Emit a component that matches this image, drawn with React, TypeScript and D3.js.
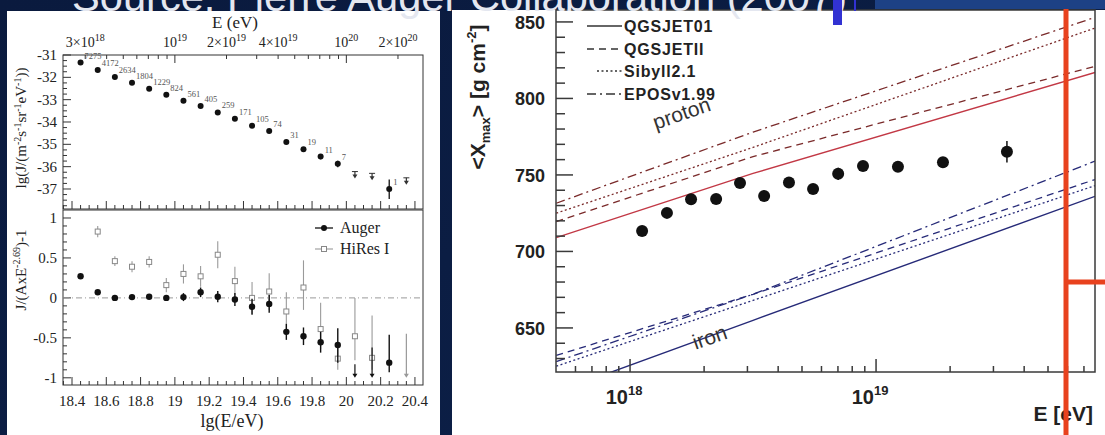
import React from 'react';
import * as d3 from 'd3';

// ---------- Left top panel: Auger energy spectrum ----------
const specLgE = [18.45, 18.55, 18.65, 18.75, 18.85, 18.95, 19.05, 19.15, 19.25, 19.35, 19.45, 19.55, 19.65, 19.75, 19.85, 19.95, 20.25];
const specLgJ = [-31.34, -31.67, -31.99, -32.24, -32.51, -32.78, -33.05, -33.28, -33.57, -33.85, -34.17, -34.40, -34.90, -35.22, -35.55, -35.87, -37.0];
const specErrUp = [0, 0, 0, 0, 0, 0, 0, 0, 0, 0, 0, 0.03, 0.05, 0.08, 0.1, 0.14, 0.42];
const specErrDn = [0, 0, 0, 0, 0, 0, 0, 0, 0, 0, 0, 0.03, 0.05, 0.08, 0.12, 0.16, 0.45];
const specEvents = ['7275', '4172', '2634', '1804', '1229', '824', '561', '405', '259', '171', '105', '74', '31', '19', '11', '7', '1'];
const specLimLgE = [20.05, 20.15, 20.35];
const specLimLgJ = [-36.22, -36.3, -36.5];
const topTickE = [3e18, 1e19, 2e19, 4e19, 1e20, 2e20];
const topTickMant = ['3', '', '2', '4', '', '2'];
const topTickExp = ['18', '19', '19', '19', '20', '20'];
const specYTicks = [-31, -32, -33, -34, -35, -36, -37];

// ---------- Left bottom panel: residuals ----------
const augerLgE = [18.45, 18.55, 18.65, 18.75, 18.85, 18.95, 19.05, 19.15, 19.25, 19.35, 19.45, 19.55, 19.65, 19.75, 19.85, 19.95, 20.25];
const augerVal = [0.27, 0.07, 0.0, 0.01, 0.015, 0.0, 0.01, 0.07, 0.015, -0.02, -0.11, -0.075, -0.425, -0.48, -0.555, -0.59, -0.81];
const augerErrUp = [0.01, 0.01, 0.015, 0.02, 0.025, 0.03, 0.05, 0.06, 0.07, 0.08, 0.1, 0.11, 0.1, 0.11, 0.13, 0.21, 0.35];
const augerErrDn = [0.01, 0.01, 0.015, 0.02, 0.025, 0.03, 0.05, 0.06, 0.07, 0.08, 0.1, 0.11, 0.1, 0.11, 0.13, 0.22, 0.12];
const augerLimLgE = [20.05, 20.15];
const augerLimTop = [-0.83, -0.62];
const hiresLgE = [18.55, 18.65, 18.75, 18.85, 18.95, 19.05, 19.15, 19.25, 19.35, 19.45, 19.55, 19.65, 19.75, 19.85, 19.95, 20.05, 20.15];
const hiresVal = [0.83, 0.46, 0.39, 0.45, 0.16, 0.30, 0.27, 0.54, 0.21, 0.0, 0.08, -0.17, 0.13, -0.39, -0.76, -0.48, -0.75];
const hiresErrUp = [0.07, 0.06, 0.07, 0.07, 0.09, 0.12, 0.13, 0.17, 0.18, 0.2, 0.23, 0.24, 0.34, 0.33, 0.14, 0.48, 0.53];
const hiresErrDn = [0.07, 0.06, 0.07, 0.07, 0.09, 0.12, 0.13, 0.17, 0.18, 0.2, 0.23, 0.24, 0.28, 0.25, 0.14, 0.3, 0.15];
const hiresLimLgE = [20.35];
const hiresLimTop = [-0.45];
const resYTicks = [1, 0.5, 0, -0.5, -1];
const resYLabels = ['1', '0.5', '0', '-0.5', '-1'];
const lgEXTicks = [18.4, 18.6, 18.8, 19, 19.2, 19.4, 19.6, 19.8, 20, 20.2, 20.4];

// ---------- Right panel: <Xmax> ----------
const xmaxLgE = [18.049, 18.15, 18.248, 18.35, 18.447, 18.545, 18.646, 18.744, 18.846, 18.947, 19.089, 19.272, 19.532];
const xmaxVal = [713.4, 725.2, 734.1, 734.3, 744.8, 736.3, 745.0, 740.8, 750.7, 755.9, 755.4, 758.3, 765.2];
const xmaxErr = [2, 2, 2, 2, 2, 2, 2, 2, 4, 2, 2, 2, 7];
const modelLgE = [17.7, 18.5, 19.89];
const modelNames = ['QGSJET01', 'QGSJETII', 'Sibyll2.1', 'EPOSv1.99'];
const protonQGSJET01 = [709, 751, 817];
const protonQGSJETII = [719.5, 762, 821];
const protonSibyll = [725, 768, 846];
const protonEPOS = [731.5, 778, 853];
const ironQGSJET01 = [608, 655, 736];
const ironQGSJETII = [632, 672, 747];
const ironSibyll = [625, 668, 743];
const ironEPOS = [628, 672, 759];
const xmaxYTicks = [850, 800, 750, 700, 650];

const SERIF = '"Liberation Serif", "DejaVu Serif", serif';
const SANS = '"Liberation Sans", Arial, sans-serif';

export default function App() {
  // ---- left scales ----
  const xL = d3.scaleLinear().domain([18.3475, 20.447]).range([63, 423]);
  const yTop = d3.scaleLinear().domain([-37.896, -31.0]).range([209, 55]);
  const yBot = d3.scaleLinear().domain([-1.09, 1.1]).range([385, 210]);
  // ---- right scales ----
  const xR = d3.scaleLog().domain([Math.pow(10, 17.699), Math.pow(10, 19.89)]).range([556, 1095]);
  const yR = d3.scaleLinear().domain([621.2, 857.8]).range([372, 10]);

  const L0 = 63, L1 = 423;

  // ticks
  const lgMinor = d3.range(18.35, 20.45, 0.05).filter(v => Math.abs(Math.round(v * 5) - v * 5) > 0.01);
  const lgMajor = lgEXTicks;
  const topLogTicks: number[] = [];
  for (let n = 18; n <= 20; n++) for (let k = 1; k <= 9; k++) {
    const lv = n + Math.log10(k);
    if (lv >= 18.3475 && lv <= 20.447) topLogTicks.push(lv);
  }
  const specMinorY = d3.range(-37.75, -31, 0.25).filter(v => Math.abs(v - Math.round(v)) > 0.01);
  const resMinorY = d3.range(-1.0, 1.05, 0.1).filter(v => Math.abs(v * 2 - Math.round(v * 2)) > 0.01);

  const rLogTicks: { v: number; major: boolean }[] = [];
  for (let n = 17; n <= 19; n++) for (let k = 1; k <= 9; k++) {
    const v = k * Math.pow(10, n);
    const lv = Math.log10(v);
    if (lv > 17.71 && lv < 19.88) rLogTicks.push({ v, major: k === 1 });
  }
  const rMinorY = d3.range(630, 858, 10).filter(v => v % 50 !== 0);

  const modelLine = (vals: number[]) =>
    d3.line<number>().x((_, i) => xR(Math.pow(10, modelLgE[i]))).y(v => yR(v))(vals) || '';

  const PROTON_SOLID = '#c23845';
  const PROTON_DASH = '#7a2a2a';
  const IRON = '#262a78';
  const styles = [
    { dash: undefined as string | undefined, w: 1.4 },
    { dash: '7 5', w: 1.3 },
    { dash: '2 2.5', w: 1.3 },
    { dash: '9 4 2 4', w: 1.3 },
  ];
  const protonSets = [protonQGSJET01, protonQGSJETII, protonSibyll, protonEPOS];
  const ironSets = [ironQGSJET01, ironQGSJETII, ironSibyll, ironEPOS];

  const arrow = (x: number, y0: number, y1: number, color: string, key: string, bar = true) => (
    <g key={key} stroke={color} fill={color}>
      {bar && <line x1={x - 3} x2={x + 3} y1={y0} y2={y0} strokeWidth={1} />}
      <line x1={x} x2={x} y1={y0} y2={y1 - 3} strokeWidth={1.2} />
      <path d={`M${x - 2.5},${y1 - 4} L${x + 2.5},${y1 - 4} L${x},${y1} Z`} stroke="none" />
    </g>
  );

  return (
    <svg width={1105} height={435} style={{ position: 'fixed', left: 0, top: 0, display: 'block' }}>
      <defs>
        <linearGradient id="bg" x1="0" y1="0" x2="1" y2="1">
          <stop offset="0" stopColor="#0a1a3e" />
          <stop offset="1" stopColor="#0c2048" />
        </linearGradient>
        <clipPath id="rclip"><rect x={556} y={10} width={539} height={362} /></clipPath>
      </defs>
      <rect x={0} y={0} width={1105} height={435} fill="url(#bg)" />
      <rect x={875} y={0} width={230} height={9} fill="#1d4185" />

      {/* ================= LEFT PANEL ================= */}
      <rect x={7} y={11} width={433} height={424} fill="#ffffff" />
      {/* frames */}
      <rect x={L0} y={55} width={L1 - L0} height={154} fill="none" stroke="#333" strokeWidth={1} />
      <rect x={L0} y={210} width={L1 - L0} height={175} fill="none" stroke="#333" strokeWidth={1} />

      {/* top panel top-axis log ticks */}
      {topLogTicks.map((lv, i) => {
        const major = Math.abs(lv - Math.round(lv)) < 1e-6;
        return <line key={'tl' + i} x1={xL(lv)} x2={xL(lv)} y1={55} y2={55 + (major ? 8 : 4)} stroke="#333" />;
      })}
      {topTickE.map((e, i) => (
        <text key={'tt' + i} x={xL(Math.log10(e))} y={47} fontFamily={SERIF} fontSize={14} fill="#222" textAnchor="middle">
          {topTickMant[i] ? `${topTickMant[i]}×10` : '10'}
          <tspan dy={-6} fontSize={10}>{topTickExp[i]}</tspan>
        </text>
      ))}
      <text x={235} y={28} fontFamily={SERIF} fontSize={17} fill="#222" textAnchor="middle">E (eV)</text>

      {/* top panel bottom ticks */}
      {lgMajor.map((v, i) => <line key={'tb' + i} x1={xL(v)} x2={xL(v)} y1={209} y2={201} stroke="#333" />)}
      {lgMinor.map((v, i) => <line key={'tbm' + i} x1={xL(v)} x2={xL(v)} y1={209} y2={205} stroke="#333" />)}
      {/* top panel y ticks */}
      {specYTicks.map((v, i) => (
        <g key={'sy' + i}>
          <line x1={L0} x2={L0 + 8} y1={yTop(v)} y2={yTop(v)} stroke="#333" />
          <text x={57} y={yTop(v) + 5} fontFamily={SERIF} fontSize={15} fill="#222" textAnchor="end">{v}</text>
        </g>
      ))}
      {specMinorY.map((v, i) => <line key={'sym' + i} x1={L0} x2={L0 + 4} y1={yTop(v)} y2={yTop(v)} stroke="#333" />)}
      <text transform="translate(26,128) rotate(-90)" fontFamily={SERIF} fontSize={15} fill="#222" textAnchor="middle">
        lg(J/(m<tspan dy={-5} fontSize={10}>-2</tspan><tspan dy={5}>s</tspan><tspan dy={-5} fontSize={10}>-1</tspan><tspan dy={5}>sr</tspan><tspan dy={-5} fontSize={10}>-1</tspan><tspan dy={5}>eV</tspan><tspan dy={-5} fontSize={10}>-1</tspan><tspan dy={5}>))</tspan>
      </text>

      {/* spectrum points */}
      {specLgE.map((e, i) => {
        const x = xL(e), y = yTop(specLgJ[i]);
        return (
          <g key={'sp' + i}>
            {(specErrUp[i] > 0 || specErrDn[i] > 0) && (
              <line x1={x} x2={x} y1={yTop(specLgJ[i] + specErrUp[i])} y2={yTop(specLgJ[i] - specErrDn[i])} stroke="#111" strokeWidth={1.3} />
            )}
            <circle cx={x} cy={y} r={3} fill="#111" />
            <text x={x + 4} y={y - 4} fontFamily={SERIF} fontSize={8.5} fill="#555">{specEvents[i]}</text>
          </g>
        );
      })}
      {specLimLgE.map((e, i) => arrow(xL(e), yTop(specLimLgJ[i]), yTop(specLimLgJ[i]) + 7, '#333', 'sl' + i))}

      {/* bottom panel ticks */}
      {lgMajor.map((v, i) => (
        <g key={'bx' + i}>
          <line x1={xL(v)} x2={xL(v)} y1={385} y2={377} stroke="#333" />
          <text x={xL(v)} y={406} fontFamily={SERIF} fontSize={15} fill="#222" textAnchor="middle">{v}</text>
        </g>
      ))}
      {lgMinor.map((v, i) => <line key={'bxm' + i} x1={xL(v)} x2={xL(v)} y1={385} y2={381} stroke="#333" />)}
      {resYTicks.map((v, i) => (
        <g key={'ry' + i}>
          <line x1={L0} x2={L0 + 8} y1={yBot(v)} y2={yBot(v)} stroke="#333" />
          <text x={57} y={yBot(v) + 5} fontFamily={SERIF} fontSize={15} fill="#222" textAnchor="end">{resYLabels[i]}</text>
        </g>
      ))}
      {resMinorY.map((v, i) => <line key={'rym' + i} x1={L0} x2={L0 + 4} y1={yBot(v)} y2={yBot(v)} stroke="#333" />)}
      <text x={232} y={427} fontFamily={SERIF} fontSize={18} fill="#222" textAnchor="middle">lg(E/eV)</text>
      <text transform="translate(26,270) rotate(-90)" fontFamily={SERIF} fontSize={15} fill="#222" textAnchor="middle">
        J/(AxE<tspan dy={-6} fontSize={10}>-2.69</tspan><tspan dy={6}>)-1</tspan>
      </text>
      {/* zero line */}
      <line x1={L0} x2={L1} y1={yBot(0)} y2={yBot(0)} stroke="#999" strokeWidth={1} strokeDasharray="6 3 1 3" />

      {/* HiRes */}
      {hiresLgE.map((e, i) => {
        const x = xL(e), y = yBot(hiresVal[i]);
        return (
          <g key={'hr' + i}>
            <line x1={x} x2={x} y1={yBot(hiresVal[i] + hiresErrUp[i])} y2={yBot(hiresVal[i] - hiresErrDn[i])} stroke="#9a9a9a" strokeWidth={1.1} />
            <rect x={x - 2.5} y={y - 2.5} width={5} height={5} fill="#fff" stroke="#888" strokeWidth={1} />
          </g>
        );
      })}
      {hiresLimLgE.map((e, i) => arrow(xL(e), yBot(hiresLimTop[i]), yBot(-1.0), '#999', 'hl' + i, false))}
      {/* Auger */}
      {augerLgE.map((e, i) => {
        const x = xL(e), y = yBot(augerVal[i]);
        return (
          <g key={'au' + i}>
            <line x1={x} x2={x} y1={yBot(augerVal[i] + augerErrUp[i])} y2={yBot(augerVal[i] - augerErrDn[i])} stroke="#111" strokeWidth={1.4} />
            <circle cx={x} cy={y} r={3.2} fill="#111" />
          </g>
        );
      })}
      {augerLimLgE.map((e, i) => arrow(xL(e), yBot(augerLimTop[i]), yBot(-1.0), '#111', 'al' + i, false))}
      {/* legend */}
      <line x1={315} x2={333} y1={228} y2={228} stroke="#111" strokeWidth={1.3} />
      <circle cx={324} cy={228} r={3} fill="#111" />
      <text x={340} y={233} fontFamily={SERIF} fontSize={16} fill="#222">Auger</text>
      <line x1={315} x2={333} y1={249} y2={249} stroke="#999" strokeWidth={1.1} />
      <rect x={321.5} y={246.5} width={5} height={5} fill="#fff" stroke="#888" />
      <text x={340} y={254} fontFamily={SERIF} fontSize={16} fill="#222">HiRes I</text>

      {/* ================= RIGHT PANEL ================= */}
      <rect x={452} y={10} width={653} height={425} fill="#ffffff" />
      <g clipPath="url(#rclip)">
        {protonSets.map((vals, i) => (
          <path key={'p' + i} d={modelLine(vals)} fill="none" stroke={i === 0 ? PROTON_SOLID : PROTON_DASH}
            strokeWidth={styles[i].w} strokeDasharray={styles[i].dash} />
        ))}
        {ironSets.map((vals, i) => (
          <path key={'f' + i} d={modelLine(vals)} fill="none" stroke={IRON}
            strokeWidth={styles[i].w} strokeDasharray={styles[i].dash} />
        ))}
      </g>
      <text transform={`translate(684,120) rotate(-19)`} fontFamily={SANS} fontSize={21} fill="#333" textAnchor="middle">proton</text>
      <text transform={`translate(712,344) rotate(-19)`} fontFamily={SANS} fontSize={21} fill="#333" textAnchor="middle">iron</text>

      {/* data */}
      {xmaxLgE.map((e, i) => {
        const x = xR(Math.pow(10, e)), y = yR(xmaxVal[i]);
        return (
          <g key={'xm' + i}>
            <line x1={x} x2={x} y1={yR(xmaxVal[i] + xmaxErr[i])} y2={yR(xmaxVal[i] - xmaxErr[i])} stroke="#111" strokeWidth={1.5} />
            <circle cx={x} cy={y} r={6} fill="#111" />
          </g>
        );
      })}

      {/* frame */}
      <rect x={556} y={10} width={539} height={362} fill="none" stroke="#3a3a3a" strokeWidth={1.5} />
      {xmaxYTicks.map((v, i) => (
        <g key={'xy' + i}>
          <line x1={556} x2={573} y1={yR(v)} y2={yR(v)} stroke="#3a3a3a" strokeWidth={1.5} />
          <text x={545} y={yR(v) + 7} fontFamily={SANS} fontWeight="bold" fontSize={18} fill="#222" textAnchor="end">{v}</text>
        </g>
      ))}
      {rMinorY.map((v, i) => <line key={'xym' + i} x1={556} x2={565} y1={yR(v)} y2={yR(v)} stroke="#3a3a3a" strokeWidth={1.5} />)}
      {rLogTicks.map((t, i) => (
        <line key={'xl' + i} x1={xR(t.v)} x2={xR(t.v)} y1={372} y2={372 - (t.major ? 13 : 6)} stroke="#3a3a3a" strokeWidth={1.5} />
      ))}
      {[1e18, 1e19].map((v, i) => (
        <text key={'xlb' + i} x={xR(v) - 6} y={404} fontFamily={SANS} fontWeight="bold" fontSize={20} fill="#222" textAnchor="middle">
          10<tspan dy={-9} fontSize={13}>{Math.round(Math.log10(v))}</tspan>
        </text>
      ))}
      <text x={1093} y={421} fontFamily={SANS} fontWeight="bold" fontSize={21} fill="#222" textAnchor="end">E [eV]</text>
      <text transform="translate(485,97) rotate(-90)" fontFamily={SANS} fontWeight="bold" fontSize={21} fill="#222" textAnchor="middle">
        {'<X'}<tspan dy={5} fontSize={13}>max</tspan><tspan dy={-5}>{'> [g cm'}</tspan><tspan dy={-9} fontSize={13}>-2</tspan><tspan dy={9}>]</tspan>
      </text>

      {/* legend */}
      {modelNames.map((n, i) => {
        const y = [26, 49, 71, 94][i];
        return (
          <g key={'lg' + i}>
            <line x1={i === 2 ? 597 : 587} x2={622} y1={y} y2={y} stroke="#333" strokeWidth={1.3} strokeDasharray={styles[i].dash} />
            <text x={624} y={y + 6} fontFamily={SANS} fontWeight="bold" fontSize={16} fill="#222" letterSpacing={0.8}>{n}</text>
          </g>
        );
      })}

      {/* red overlay marks */}
      <line x1={1066} x2={1066} y1={9} y2={435} stroke="#e8421e" strokeWidth={5} />
      <line x1={1066} x2={1105} y1={282} y2={282} stroke="#e8421e" strokeWidth={5} />

      {/* slide title (cut off at the top edge) */}
      <text x={72} y={11} fontFamily={SANS} fontSize={40} fill="#e4e7f0" textLength={775} lengthAdjust="spacingAndGlyphs"
        clipPath="inset(0 0 0 0)">
        Source: Pierre Auger Collaboration (2007)
      </text>
      {/* blue artefacts */}
      <rect x={833} y={0} width={9} height={25} fill="#3232d2" />
      <rect x={854} y={0} width={2} height={11} fill="#3232d2" />
    </svg>
  );
}
